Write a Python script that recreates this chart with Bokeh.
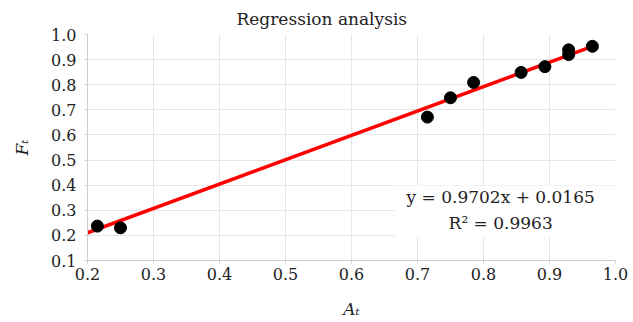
from bokeh.plotting import figure
from bokeh.models import FixedTicker, NumeralTickFormatter, Label, BoxAnnotation, Range1d
from bokeh.embed import file_html
from bokeh.resources import INLINE

# Data
a_t = [0.215, 0.250, 0.715, 0.750, 0.785, 0.857, 0.893, 0.929, 0.929, 0.965]
f_t = [0.237, 0.230, 0.671, 0.748, 0.809, 0.849, 0.872, 0.939, 0.920, 0.953]
slope = 0.9702
intercept = 0.0165
r_squared = 0.9963
fit_x = [0.2, 0.965]
x_ticks = [0.2, 0.3, 0.4, 0.5, 0.6, 0.7, 0.8, 0.9, 1.0]
y_ticks = [0.1, 0.2, 0.3, 0.4, 0.5, 0.6, 0.7, 0.8, 0.9, 1.0]

FONT = "DejaVu Serif"
TXT = "#222222"

p = figure(frame_width=528, frame_height=226, output_backend="svg", toolbar_location=None,
           x_range=Range1d(0.2, 1.0), y_range=Range1d(0.1, 1.0),
           min_border_left=87, min_border_right=18, min_border_top=34, min_border_bottom=62)
p.outline_line_color = None

p.title.text = "Regression analysis"
p.title.align = "left"
p.title.text_font = FONT
p.title.text_font_size = "17px"
p.title.text_font_style = "normal"
p.title.text_color = TXT
p.title.offset = 149
p.title.standoff = 11

for ax, ticks in ((p.xaxis[0], x_ticks), (p.yaxis[0], y_ticks)):
    ax.ticker = FixedTicker(ticks=ticks)
    ax.formatter = NumeralTickFormatter(format="0.0")
    ax.axis_line_color = "#cccccc"
    ax.major_tick_line_color = "#cccccc"
    ax.major_tick_out = 3
    ax.major_tick_in = 0
    ax.minor_tick_line_color = None
    ax.major_label_text_font = FONT
    ax.major_label_text_font_size = "16px"
    ax.major_label_text_color = TXT
    ax.axis_label_text_font = FONT
    ax.axis_label_text_font_size = "17px"
    ax.axis_label_text_font_style = "italic"
    ax.axis_label_text_color = TXT

p.xaxis.axis_label = "A\u209c"
p.yaxis.axis_label = "F\u209c"
p.xaxis.major_label_standoff = 4
p.xaxis.axis_label_standoff = 16
p.yaxis.major_label_standoff = 8
p.yaxis.axis_label_standoff = 16

p.grid.grid_line_color = "#e6e6e6"
p.grid.grid_line_width = 1

fit_y = [slope * x + intercept for x in fit_x]
p.line(fit_x, fit_y, line_color="red", line_width=3.5)
p.scatter(a_t, f_t, size=12, fill_color="black", line_color="black")

box = BoxAnnotation(left=0.665, right=0.997, bottom=0.192, top=0.399,
                    fill_color="white", fill_alpha=1.0, line_color=None, level="underlay")
p.add_layout(box)

eq = Label(x=0.826, y=0.351, text=f"y = {slope}x + {intercept}", text_align="center",
           text_baseline="middle", text_font=FONT, text_font_size="17px", text_color=TXT)
r2 = Label(x=0.826, y=0.251, text=f"R\u00b2 = {r_squared}", text_align="center",
           text_baseline="middle", text_font=FONT, text_font_size="17px", text_color=TXT)
p.add_layout(eq)
p.add_layout(r2)

open("out.html", "w").write(file_html(p, INLINE))
